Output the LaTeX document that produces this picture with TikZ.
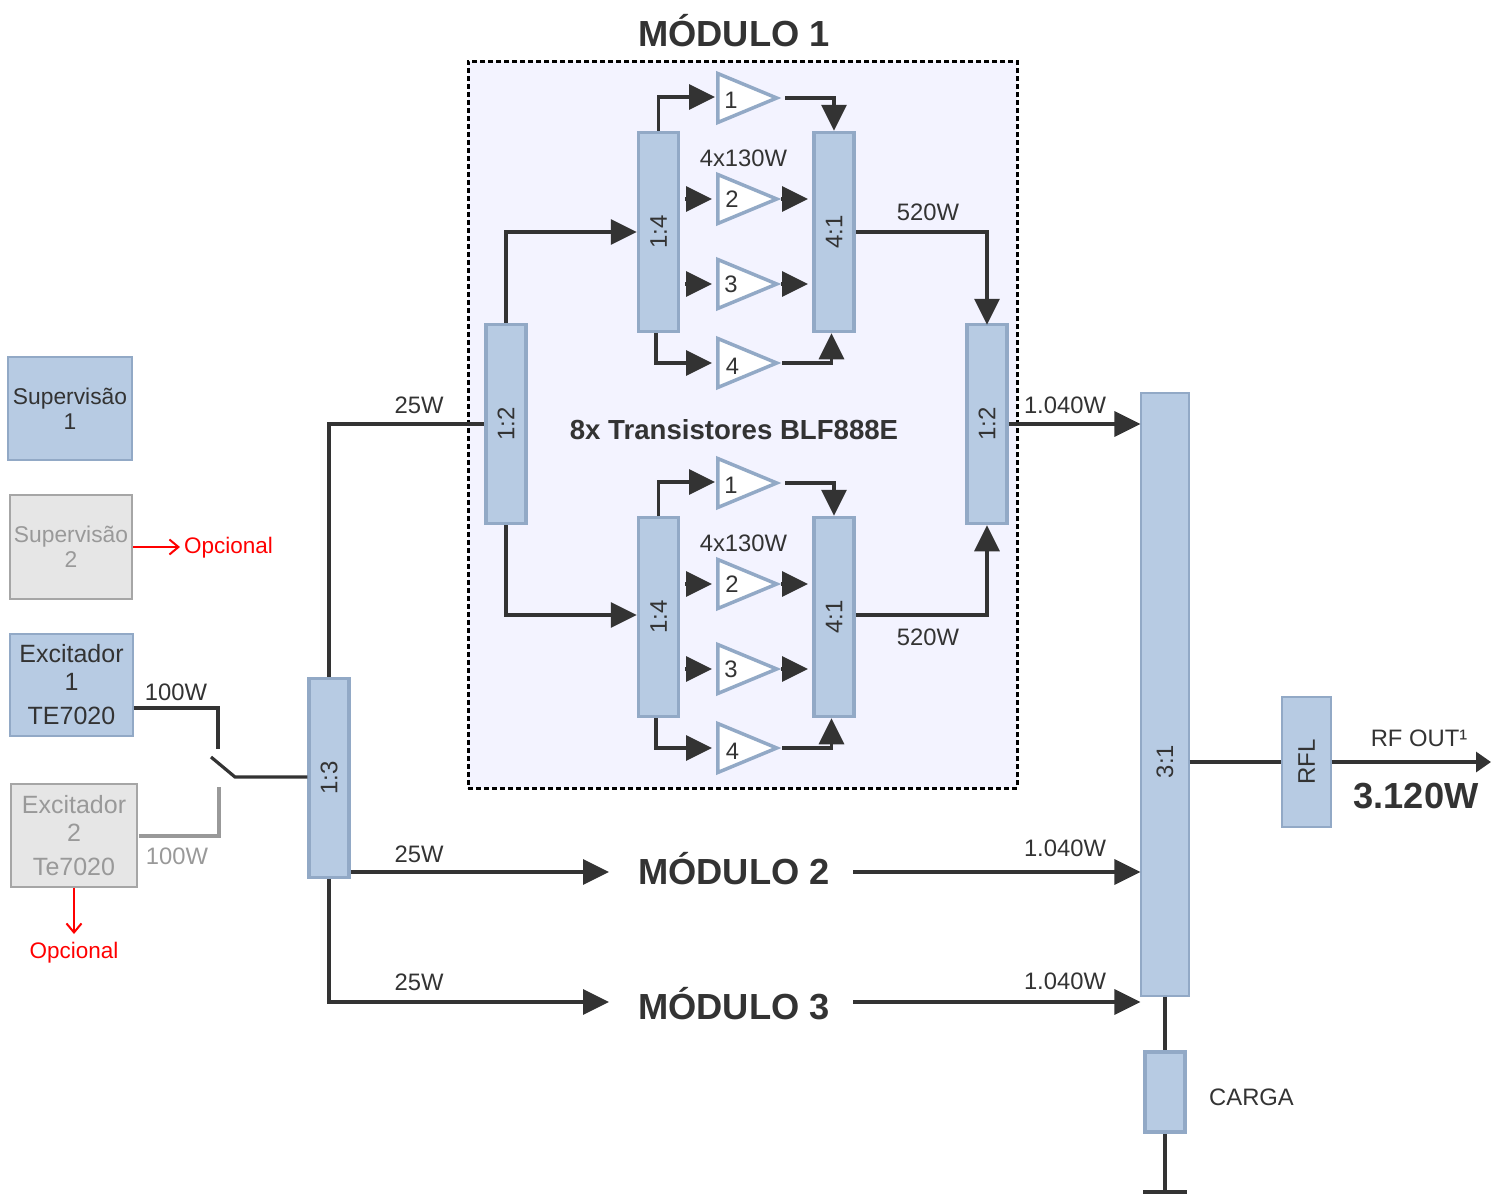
\documentclass[tikz,border=0pt]{standalone}
\usepackage{fontspec}
\setmainfont{Liberation Sans}
\usetikzlibrary{arrows.meta,shapes.geometric}
\definecolor{bfill}{HTML}{B7CBE3}
\definecolor{bline}{HTML}{92A9C6}
\definecolor{dark}{HTML}{333333}
\definecolor{gfill}{HTML}{E6E6E6}
\definecolor{gline}{HTML}{A6A6A6}
\definecolor{gtext}{HTML}{999999}
\definecolor{modfill}{HTML}{F3F3FF}
\newcommand{\rtext}[1]{\rotatebox{90}{#1}}
\tikzset{
  txt/.style={font=\fontsize{23.8}{28}\selectfont,text=dark,inner sep=0pt,anchor=base},
  title/.style={font=\fontsize{36.3}{40}\selectfont\bfseries,text=dark,inner sep=0pt},
  redtxt/.style={font=\fontsize{22.5}{26}\selectfont,text=red,inner sep=0pt,anchor=base},
  splitter/.style={draw=bline,fill=bfill,line width=3.5pt,inner sep=0pt,font=\fontsize{24}{28}\selectfont,text=dark,minimum width=40pt,minimum height=199pt},
  flatbox/.style={draw=bline,fill=bfill,line width=1.2pt,inner sep=0pt,align=center,text=dark},
  greybox/.style={draw=gline,fill=gfill,line width=1.5pt,inner sep=0pt,align=center,text=gtext},
  amp/.style={isosceles triangle,isosceles triangle stretches,draw=bline,fill=white,line width=3.5pt,inner sep=0pt,minimum width=49pt,minimum height=59pt,anchor=lower side},
  conn/.style={draw=dark,line width=3.2pt,miter limit=10},
  arr/.style={conn,-{Triangle[length=26pt,width=25pt,sep=0pt]}},
  redarr/.style={draw=red,line width=1.6pt,-{Straight Barb[length=9pt,width=15pt,line width=2pt]}}
}
\begin{document}
\begin{tikzpicture}[x=1pt,y=-1pt]
\useasboundingbox (0,0) rectangle (1491,1194);
% module frame
\node[draw=black,fill=modfill,line width=3pt,dash pattern=on 5pt off 3pt,minimum width=549pt,minimum height=727pt,inner sep=0pt] (frame) at (742.5,424.5) {};
\node[title,text height=26pt,text depth=0pt] (m1) at (734,33) {MÓDULO 1};
\node[title,text height=26pt,text depth=0pt] (m2) at (734,871) {MÓDULO 2};
\node[title,text height=26pt,text depth=0pt] (m3) at (734,1006) {MÓDULO 3};
% sub modules
\foreach \dy/\p in {0/u,385/l}{
\begin{scope}[yshift=-\dy pt]
  \node[splitter] (\p-split) at (658.5,232) {\rtext{1:4}};
  \node[splitter] (\p-comb) at (834,232) {\rtext{4:1}};
  \node[amp] (\p-a1) at (716,98) {};
  \node[amp] (\p-a2) at (716,199) {};
  \node[amp] (\p-a3) at (716,284) {};
  \node[amp] (\p-a4) at (716,363) {};
  \node[txt] (\p-n1) at (731,108) {1};
  \node[txt] (\p-n2) at (732,207) {2};
  \node[txt] (\p-n3) at (731,292) {3};
  \node[txt] (\p-n4) at (732.5,374) {4};
  \node[txt] (\p-w) at (743.5,166) {4x130W};
  \coordinate (\p-o1) at (785,98);
  \coordinate (\p-i2) at (685,199);
  \coordinate (\p-t2) at (712,199);
  \coordinate (\p-o2) at (781,199);
  \coordinate (\p-r2) at (808,199);
  \coordinate (\p-i3) at (685,284);
  \coordinate (\p-t3) at (712,284);
  \coordinate (\p-o3) at (781,284);
  \coordinate (\p-r3) at (808,284);
  \coordinate (\p-t4) at (712,363);
  \coordinate (\p-o4) at (782,363);
  \coordinate (\p-t1) at (715,97);
\end{scope}
  \draw[arr] (\p-split.north) |- (\p-t1);
  \draw[arr] (\p-o1) -| (\p-comb.north);
  \draw[arr] (\p-i2) -- (\p-t2);
  \draw[arr] (\p-o2) -- (\p-r2);
  \draw[arr] (\p-i3) -- (\p-t3);
  \draw[arr] (\p-o3) -- (\p-r3);
  \draw[arr] ([xshift=-2.5pt]\p-split.south) |- (\p-t4);
  \draw[arr] (\p-o4) -| ([xshift=-2.5pt]\p-comb.south);
}
\node[font=\fontsize{27.6}{30}\selectfont\bfseries,text=dark,inner sep=0pt,anchor=base] (bt) at (734,439) {8x Transistores BLF888E};
% splitters
\node[splitter] (s12) at (506,424) {\rtext{1:2}};
\node[splitter] (c12) at (987,424) {\rtext{1:2}};
\node[splitter] (s13) at (329,778) {\rtext{1:3}};
\node[flatbox,minimum width=48pt,minimum height=603pt] (c31) at (1165,694.5) {};
\node[txt] (c31t) at (1165,778) {\rtext{3:1}};
\node[flatbox,minimum width=49pt,minimum height=130pt,font=\fontsize{24}{28}\selectfont] (rfl) at (1306.5,762) {\rtext{RFL}};
\node[draw=bline,fill=bfill,line width=3.5pt,inner sep=0pt,minimum width=40pt,minimum height=80pt] (carga) at (1165,1092) {};
% left boxes
\node[flatbox,minimum width=124pt,minimum height=103pt,font=\fontsize{22.8}{25}\selectfont] (sup1) at (70,408.5) {Supervisão\\1};
\node[greybox,minimum width=122pt,minimum height=104pt,font=\fontsize{22.8}{25}\selectfont] (sup2) at (71,547) {Supervisão\\2};
\node[flatbox,minimum width=123pt,minimum height=102pt,font=\fontsize{25}{28}\selectfont] (ex1) at (71.5,685) {Excitador\\1\\[6pt]TE7020};
\node[greybox,minimum width=126pt,minimum height=103pt,font=\fontsize{25}{28}\selectfont] (ex2) at (74,835.5) {Excitador\\2\\[6pt]Te7020};
% switch
\coordinate (sw1) at (218,749);
\coordinate (sw2) at (219,787);
\coordinate (swa) at (211,757);
\coordinate (swb) at (235,777);
\draw[conn] ([yshift=-23pt]ex1.east) -| (sw1);
\draw[conn,draw=gtext] ([xshift=1pt,yshift=-0.5pt]ex2.east) -| (sw2);
\draw[conn] (swa) -- (swb) -- (s13.west |- swb);
% main connectors
\draw[conn] (s13.north) |- (s12.west);
\draw[arr] (s12.north) |- (u-split.west);
\draw[arr] (s12.south) |- ([yshift=2pt]l-split.west);
\draw[arr,shorten >=-2pt] (u-comb.east) -| (c12.north);
\draw[arr] ([yshift=2pt]l-comb.east) -| (c12.south);
\draw[arr] (c12.east) -- (c12.east -| c31.west);
\draw[arr,shorten >=29pt] (s13.south east |- 0,872) -- (m2.west |- 0,872);
\draw[arr,shorten <=23pt] (m2.east |- 0,872) -- (c31.west |- 0,872);
\draw[arr,shorten >=29pt] (s13.south) |- (m3.west |- 0,1002);
\draw[arr,shorten <=23pt] (m3.east |- 0,1002) -- (c31.west |- 0,1002);
\coordinate (outp) at (1491,762);
\draw[conn] (c31.east |- rfl) -- (rfl.west);
\draw[conn,-{Triangle[length=15pt,width=20pt,sep=0pt]}] (rfl.east) -- (outp);
\coordinate (gnd) at (1165,1192);
\draw[conn] (c31.south) -- (carga.north);
\draw[conn] (carga.south) -- (gnd);
\draw[conn] ([xshift=-22pt]gnd) -- ([xshift=22pt]gnd);
% red
\coordinate (op1) at (180,547);
\coordinate (op2) at (74,934);
\draw[redarr] (sup2.east) -- (op1);
\draw[redarr] (ex2.south) -- (op2);
\node[redtxt,anchor=base west] (op1t) at (184,553) {Opcional};
\node[redtxt] (op2t) at (74,958) {Opcional};
% labels
\node[txt] (l1) at (419,413) {25W};
\node[txt] (l2) at (419,862) {25W};
\node[txt] (l3) at (419,990) {25W};
\node[txt] (l4) at (1065,413) {1.040W};
\node[txt] (l5) at (1065,856) {1.040W};
\node[txt] (l6) at (1065,989) {1.040W};
\node[txt] (l7) at (928,220) {520W};
\node[txt] (l8) at (928,645) {520W};
\node[txt] (l9) at (176,700) {100W};
\node[txt,text=gtext] (l10) at (177,864) {100W};
\node[txt,anchor=base west] (l11) at (1209,1105) {CARGA};
\node[txt] (l12) at (1419,746) {RF OUT¹};
\node[title,anchor=base] (l13) at (1416,808) {3.120W};
\end{tikzpicture}
\end{document}
